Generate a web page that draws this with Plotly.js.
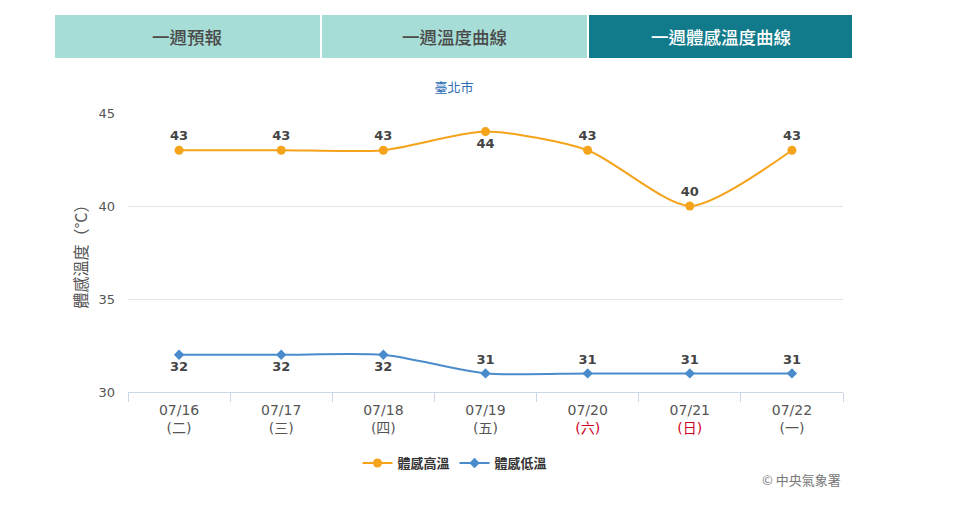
<!DOCTYPE html>
<html>
<head>
<meta charset="utf-8">
<script src="https://cdn.plot.ly/plotly-3.0.1.min.js"></script>
<style>body{margin:0;background:#fff}#chart{width:960px;height:511px}</style>
</head>
<body>
<div id="chart"></div>
<script>
const dates = ["07/16","07/17","07/18","07/19","07/20","07/21","07/22"];
const weekdays = ["(二)","(三)","(四)","(五)","(六)","(日)","(一)"];
const weekend = [false,false,false,false,true,true,false];
const highTemps = [43,43,43,44,43,40,43];
const lowTemps = [32,32,32,31,31,31,31];
const highPos = ["top center","top center","top center","bottom center","top center","top center","top center"];
const lowPos = ["bottom center","bottom center","bottom center","top center","top center","top center","top center"];
const tabLabels = ["一週預報","一週溫度曲線","一週體感溫度曲線"];

const FONT = "DejaVu Sans, 'Noto Sans CJK TC', sans-serif";
const CJK = "'Noto Sans CJK TC', sans-serif";
const L = 128, R = 843, T = 113, B = 392;
const px = x => (x - L) / (R - L);
const py = y => (B - y) / (B - T);

const ticktext = dates.map((d,i) => weekend[i]
  ? d + '<br><span style="color:#d0021b">' + weekdays[i] + '</span>'
  : d + '<br>' + weekdays[i]);

const traces = [
  {
    x: dates, y: highTemps, name: "體感高溫", type: "scatter", mode: "lines+markers+text",
    line: {color: "#f5a31a", width: 2, shape: "spline", smoothing: 0.7},
    marker: {color: "#f5a31a", size: 9, symbol: "circle"},
    text: highTemps.map(String), textposition: highPos,
    textfont: {family: FONT, size: 13, color: "#444", weight: "bold"},
    hoverinfo: "none", cliponaxis: false
  },
  {
    x: dates, y: lowTemps, name: "體感低溫", type: "scatter", mode: "lines+markers+text",
    line: {color: "#4a8ccb", width: 2, shape: "spline", smoothing: 0.7},
    marker: {color: "#4a8ccb", size: 8, symbol: "diamond"},
    text: lowTemps.map(String), textposition: lowPos,
    textfont: {family: FONT, size: 13, color: "#444", weight: "bold"},
    hoverinfo: "none", cliponaxis: false
  }
];

const tabs = [[55,320],[322,587],[589,852]];
const shapes = tabs.map((t,i) => ({
  type: "rect", xref: "paper", yref: "paper",
  x0: px(t[0]), x1: px(t[1]), y0: py(58), y1: py(15),
  fillcolor: i === 2 ? "#127b8b" : "#a6ddd7", line: {width: 0}, layer: "above"
}));

const annotations = tabs.map((t,i) => ({
  xref: "paper", yref: "paper", x: px((t[0]+t[1])/2), y: py(36.5),
  text: tabLabels[i], showarrow: false, xanchor: "center", yanchor: "middle",
  font: {family: CJK, size: 17.5, color: i === 2 ? "#ffffff" : "#4a4a4a", weight: 500}
}));
annotations.push({
  xref: "paper", yref: "paper", x: px(843), y: py(479),
  text: "© 中央氣象署", showarrow: false, xanchor: "right", yanchor: "middle",
  font: {family: CJK, size: 13, color: "#777"}
});

const layout = {
  width: 960, height: 511,
  margin: {l: L, r: 960 - R, t: T, b: 511 - B},
  paper_bgcolor: "#fff", plot_bgcolor: "#fff",
  font: {family: FONT, color: "#666"},
  title: {text: "臺北市", x: px(454), xref: "paper", xanchor: "center", y: 1 - 87/511, yanchor: "middle",
          font: {family: CJK, size: 13, color: "#2a6db5"}},
  xaxis: {
    type: "category", range: [-0.5, 6.5], tickvals: dates, ticktext: ticktext,
    tickson: "boundaries", ticks: "outside", ticklen: 9, tickcolor: "#ccd6eb", tickwidth: 1,
    showline: true, linecolor: "#ccd6eb", linewidth: 1, showgrid: false, zeroline: false,
    ticklabelstandoff: 5,
    tickfont: {family: FONT, size: 14, color: "#555"}, fixedrange: true
  },
  yaxis: {
    range: [30, 45], tickvals: [30,35,40,45], showgrid: true, gridcolor: "#e6e6e6",
    zeroline: false, ticks: "", ticklabelstandoff: 12,
    tickfont: {family: FONT, size: 13, color: "#555"},
    title: {text: "體感溫度（°C）", standoff: 6, font: {family: CJK, size: 16, color: "#555"}},
    fixedrange: true
  },
  showlegend: true,
  legend: {orientation: "h", x: px(455), xanchor: "center", y: py(463), yanchor: "middle",
           font: {family: CJK, size: 13, color: "#333", weight: "bold"}, itemwidth: 30},
  shapes: shapes, annotations: annotations
};

Plotly.newPlot("chart", traces, layout, {displayModeBar: false, staticPlot: true});
</script>
</body>
</html>
